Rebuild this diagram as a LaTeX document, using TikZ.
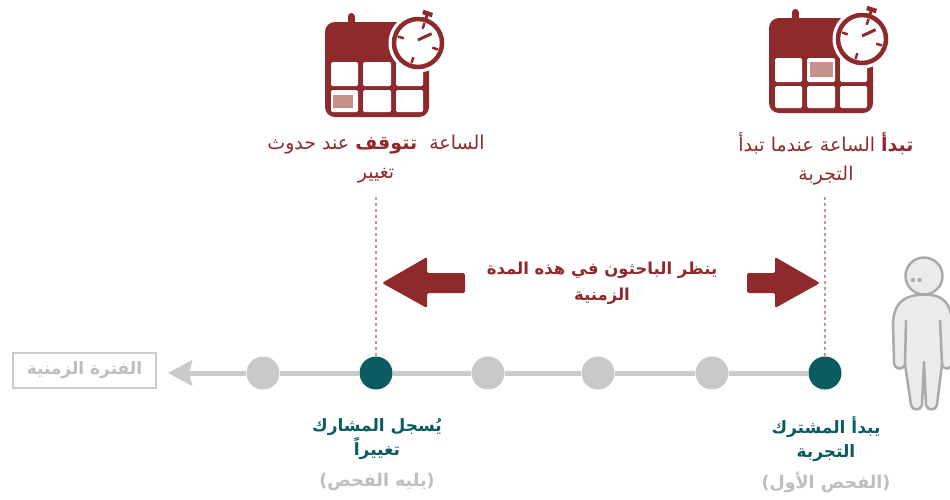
\documentclass[tikz,border=0pt]{standalone}
\usepackage{fontspec}
\usetikzlibrary{arrows.meta,calc}
\newfontfamily\ar[Script=Arabic]{DejaVu Sans}
\TeXXeTstate=1
\definecolor{calred}{HTML}{8E2A2B}
\definecolor{calhl}{HTML}{C4928A}
\definecolor{tealc}{HTML}{0B5B63}
\definecolor{dotgray}{HTML}{C8C9CB}
\definecolor{txtgray}{HTML}{BDBEC0}
\definecolor{dashc}{HTML}{C9978B}
\definecolor{pfill}{HTML}{EBEBEC}
\definecolor{pline}{HTML}{A9AAAC}
\newcommand\mycal[6]{%
\begin{scope}[shift={(#1,#2)}]
  \fill[calred, rounded corners=10pt] (0,0) rectangle (104,95);
  \draw[calred, line width=7pt, line cap=round] (26,-5.5) -- (26,3);
  \foreach \xa/\xb in {6/33,38/66,71/98}
    \foreach \ya/\yb in {40/64,68/90}
      \fill[white, rounded corners=1.5pt] (\xa,\ya) rectangle (\xb,\yb);
  \fill[calhl] (#3,#4) rectangle ++(#5,#6);
  \begin{scope}[shift={(93,21)}]
    \fill[white] (0,0) circle (29.5);
    \draw[calred, line width=4.5pt] (0,0) circle (24);
    \draw[calred, line width=3pt] (-72:25) -- (-72:30);
    \draw[calred, line width=4.5pt] ($(-72:31)+(18:5)$) -- ($(-72:31)+(-162:5)$);
    \foreach \a in {-72,18,108,-162}
      \draw[calred, line width=2.5pt] (\a:15) -- (\a:21);
    \draw[calred, line width=3pt] (0,-3) -- ++(-25:15);
  \end{scope}
\end{scope}}
\tikzset{
  dot/.style={circle, minimum size=33pt, inner sep=0pt, fill=dotgray},
  tdot/.style={dot, fill=tealc},
  tline/.style={dotgray, line width=5pt},
  dashln/.style={dashc, line width=2.5pt, dash pattern=on 3pt off 3pt},
  caltxt/.style={align=center, text=calred, font=\ar\fontsize{19}{29}\selectfont, inner sep=0pt},
  midtxt/.style={align=center, text=calred, font=\ar\bfseries\fontsize{16.5}{26}\selectfont, inner sep=0pt},
  tealtxt/.style={align=center, text=tealc, font=\ar\bfseries\fontsize{17}{24}\selectfont, inner sep=0pt},
  graytxt/.style={align=center, text=txtgray, font=\ar\bfseries\fontsize{17.5}{24}\selectfont, inner sep=0pt},
  gbox/.style={draw=txtgray!80, line width=2.5pt, minimum width=143pt, minimum height=35pt, text=txtgray, font=\ar\bfseries\fontsize{17}{20}\selectfont, inner sep=0pt},
  bigarrow/.style={fill=calred},
  person/.style={fill=pfill, draw=pline, line width=2.5pt, line join=round},
}
\begin{document}
\begin{tikzpicture}[x=1pt,y=-1pt]
\useasboundingbox (0,0) rectangle (950,499);
\fill[white] (0,0) rectangle (950,499);

% calendars
\mycal{325}{22}{8}{73}{20}{13}
\mycal{769}{18}{41}{44}{23}{15}

% calendar labels
\node[caltxt] (lab1) at (376,159.5) {\beginR الساعة\ \ {\bfseries تتوقف} عند حدوث\endR\\\beginR تغيير\endR};
\node[caltxt] (lab2) at (826,158.5) {\beginR{\bfseries تبدأ} الساعة عندما تبدأ\endR\\\beginR التجربة\endR};

% timeline
\coordinate (tl) at (168,373);
\node[dot]  (d1) at (263,373) {};
\node[tdot] (d2) at (376,373) {};
\node[dot]  (d3) at (488,373) {};
\node[dot]  (d4) at (598,373) {};
\node[dot]  (d5) at (712,373) {};
\node[tdot] (d6) at (825,373) {};
\draw[tline] (d6) -- (d5);
\draw[tline] (d5) -- (d4);
\draw[tline] (d4) -- (d3);
\draw[tline] (d3) -- (d2);
\draw[tline] (d2) -- (d1);
\draw[tline, -{Stealth[length=24pt,width=25pt,inset=3pt]}] (d1) -- (tl);
\node[gbox] (box) at (84.5,370.5) {\beginR الفترة الزمنية\endR};

% dashed guides
\coordinate (t1) at (376,197);
\coordinate (t2) at (825,197);
\draw[dashln] (t1) -- (d2);
\draw[dashln] (t2) -- (d6);

% big arrows
\fill[bigarrow, rounded corners=1.5pt] (382,283) -- (427,257) -- (427,273) -- (465,273) -- (465,293) -- (427,293) -- (427,308) -- cycle;
\fill[bigarrow, rounded corners=1.5pt] (820,283) -- (775,257) -- (775,273) -- (747,273) -- (747,293) -- (775,293) -- (775,308) -- cycle;
\node[midtxt] (mid) at (602,283) {\beginR ينظر الباحثون في هذه المدة\endR\\\beginR الزمنية\endR};

% bottom labels
\node[tealtxt] (bl1) at (377,439) {\beginR يُسجل المشارك\endR\\\beginR تغييراً\endR};
\node[graytxt] (bl1g) at (377,482) {\beginR (يليه الفحص)\endR};
\node[tealtxt] (bl2) at (826,439) {\beginR يبدأ المشترك\endR\\\beginR التجربة\endR};
\node[graytxt] (bl2g) at (826,482) {\beginR (الفحص الأول)\endR};

% person
\draw[person] (912,296) .. controls (900,299) and (893,308) .. (893,325)
  -- (894,362) .. controls (894,370) and (903,371) .. (905,364)
  -- (911,405) .. controls (912,411) and (921,411) .. (922,405)
  -- (924,362) -- (926,405) .. controls (927,411) and (936,411) .. (937,405)
  -- (942,364) .. controls (944,371) and (952,370) .. (952,362)
  -- (952,325) .. controls (952,308) and (946,299) .. (936,296)
  .. controls (928,294) and (920,294) .. (912,296) -- cycle;
\draw[pline, line width=2.5pt] (906,320) -- (905,364);
\draw[pline, line width=2.5pt] (940,320) -- (942,364);
\draw[person] (924,276) circle (18.5);
\fill[pline] (913,280) circle (2.2);
\fill[pline] (919.5,280) circle (2.2);
\end{tikzpicture}
\end{document}
